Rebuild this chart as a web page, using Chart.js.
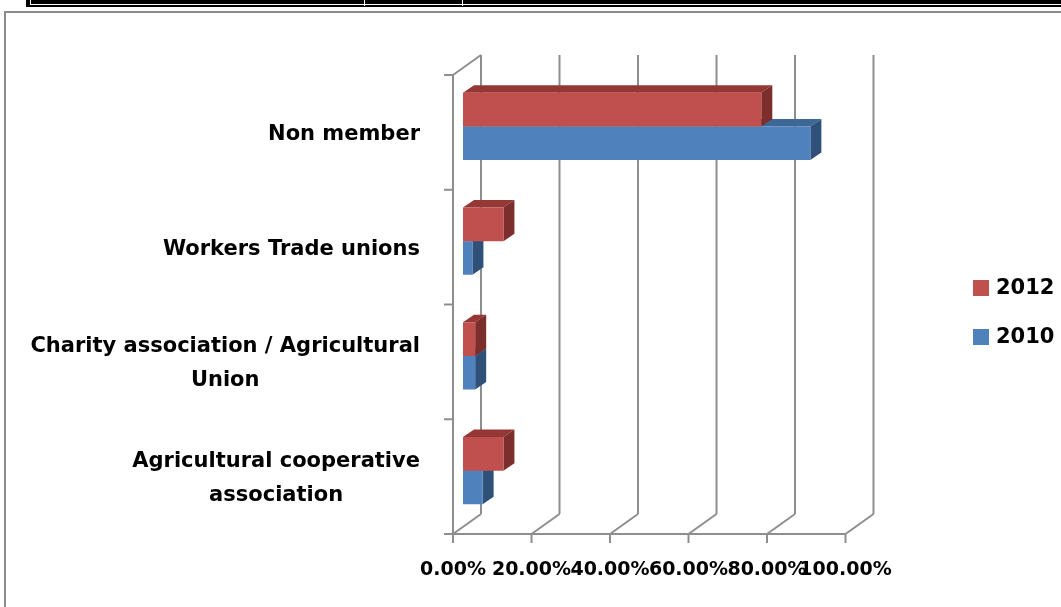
<!DOCTYPE html>
<html>
<head>
<meta charset="utf-8">
<script src="https://cdn.jsdelivr.net/npm/chart.js@4.4.1/dist/chart.umd.min.js"></script>
<style>
  body { margin:0; background:#fff; width:1061px; height:607px; overflow:hidden; position:relative; }
  #topbar { position:absolute; left:26px; top:0; width:1035px; height:7px; background:#000; }
  #topbar .inner { position:absolute; left:4px; top:-1px; width:1040px; height:5px; border-left:1px solid #fff; border-bottom:1px solid #fff; }
  #topbar .sep { position:absolute; top:0; width:1px; height:6px; background:#fff; }
  #frame { position:absolute; left:4px; top:11px; width:1100px; height:700px; border-top:2px solid #8c8c8c; border-left:2px solid #8c8c8c; }
  #chart { position:absolute; left:0; top:0; }
</style>
</head>
<body>
<div id="topbar"><div class="inner"></div><div class="sep" style="left:338px"></div><div class="sep" style="left:436px"></div></div>
<div id="frame"></div>
<canvas id="chart" width="1061" height="607"></canvas>
<script>
(function(){
    // data (percent)
    const categories = [
        ['Non member'],
        ['Workers Trade unions'],
        ['Charity association / Agricultural', 'Union'],
        ['Agricultural cooperative', 'association']
    ];
    const seriesNames = ['2012', '2010'];
    const values2012 = [76.0, 10.3, 3.1, 10.3];
    const values2010 = [88.5, 2.4, 3.1, 5.0];
    const xTicks = [0, 20, 40, 60, 80, 100];

    const colors = {
        '2012': { front:'#C0504D', top:'#953735', side:'#7B2E2C' },
        '2010': { front:'#4F81BD', top:'#3C6797', side:'#2F5078' }
    };

    // 3d offsets relative to the plane of the bars' front faces
    const FRONT = { dx:-10, dy:6 };
    const BACK = { dx:18, dy:-14 };
    const DEPTH = { dx:11, dy:-7.5 };
    const FONT = '"DejaVu Sans", sans-serif';

    function line(ctx, x1, y1, x2, y2){
        ctx.beginPath(); ctx.moveTo(x1, y1); ctx.lineTo(x2, y2); ctx.stroke();
    }
    function poly(ctx, pts, fill){
        ctx.beginPath();
        ctx.moveTo(pts[0][0], pts[0][1]);
        for(let i=1;i<pts.length;i++) ctx.lineTo(pts[i][0], pts[i][1]);
        ctx.closePath();
        ctx.fillStyle = fill; ctx.fill();
    }

    const threeD = {
        id: 'threeD',
        beforeDatasetsDraw(chart){
            const { ctx, chartArea:a, scales:{ x, y } } = chart;
            ctx.save();
            ctx.strokeStyle = '#8e8e8e';
            ctx.lineWidth = 2;
            // back wall grid + floor lines + bottom ticks
            xTicks.forEach(v=>{
                const px = x.getPixelForValue(v);
                line(ctx, px+BACK.dx, a.top+BACK.dy, px+BACK.dx, a.bottom+BACK.dy);
                line(ctx, px+FRONT.dx, a.bottom+FRONT.dy, px+BACK.dx, a.bottom+BACK.dy);
                line(ctx, px+FRONT.dx, a.bottom+FRONT.dy, px+FRONT.dx, a.bottom+FRONT.dy+9);
            });
            const fx = a.left + FRONT.dx;
            // left wall top edge
            line(ctx, fx, a.top+FRONT.dy, a.left+BACK.dx, a.top+BACK.dy);
            // front axes
            line(ctx, fx, a.top+FRONT.dy, fx, a.bottom+FRONT.dy);
            line(ctx, fx-9, a.bottom+FRONT.dy, x.getPixelForValue(100)+FRONT.dx, a.bottom+FRONT.dy);
            const band = (a.bottom - a.top) / categories.length;
            for(let i=0;i<categories.length;i++){
                const py = a.top + i*band + FRONT.dy;
                line(ctx, fx-9, py, fx, py);
            }
            // top and side faces of the bars, lower series first
            for(let d=chart.data.datasets.length-1; d>=0; d--){
                const ds = chart.data.datasets[d];
                const c = colors[ds.label];
                chart.getDatasetMeta(d).data.forEach(el=>{
                    const p = el.getProps(['x','y','base','height'], true);
                    const t = p.y - p.height/2, b = p.y + p.height/2;
                    poly(ctx, [[p.base,t],[p.base+DEPTH.dx,t+DEPTH.dy],[p.x+DEPTH.dx,t+DEPTH.dy],[p.x,t]], c.top);
                    poly(ctx, [[p.x,t],[p.x+DEPTH.dx,t+DEPTH.dy],[p.x+DEPTH.dx,b+DEPTH.dy],[p.x,b]], c.side);
                });
            }
            ctx.restore();
        },
        afterDraw(chart){
            const { ctx, chartArea:a, scales:{ x, y } } = chart;
            ctx.save();
            ctx.fillStyle = '#000';
            // category labels, lines centred in a right aligned block
            ctx.font = 'bold 21px ' + FONT;
            ctx.textBaseline = 'middle';
            ctx.textAlign = 'center';
            const right = a.left + FRONT.dx - 33;
            const lh = 34;
            categories.forEach((lines, i)=>{
                const w = Math.max(...lines.map(s=>ctx.measureText(s).width));
                const cx = right - w/2;
                const cy = y.getPixelForValue(i) + FRONT.dy + 2;
                lines.forEach((s, k)=>{
                    ctx.fillText(s, cx, cy + (k - (lines.length-1)/2)*lh);
                });
            });
            // value axis labels
            ctx.font = 'bold 19px ' + FONT;
            xTicks.forEach(v=>{
                ctx.fillText(v.toFixed(2) + '%', x.getPixelForValue(v)+FRONT.dx, 570);
            });
            // legend
            ctx.font = 'bold 21px ' + FONT;
            ctx.textAlign = 'left';
            seriesNames.forEach((n, i)=>{
                const ly = 280 + i*49;
                ctx.fillStyle = colors[n].front;
                ctx.fillRect(973, ly, 16, 16);
                ctx.fillStyle = '#000';
                ctx.fillText(n, 996, ly + 9);
            });
            ctx.restore();
        }
    };

    new Chart(document.getElementById('chart').getContext('2d'), {
        type: 'bar',
        data: {
            labels: categories,
            datasets: [
                { label: seriesNames[0], data: values2012, backgroundColor: colors['2012'].front },
                { label: seriesNames[1], data: values2010, backgroundColor: colors['2010'].front }
            ]
        },
        options: {
            indexAxis: 'y',
            responsive: false,
            animation: false,
            layout: { padding: { left: 463, right: 205.5, top: 69, bottom: 79 } },
            datasets: { bar: { categoryPercentage: 0.585, barPercentage: 1, borderWidth: 0 } },
            scales: {
                x: { display: false, min: 0, max: 100 },
                y: { display: false }
            },
            plugins: { legend: { display: false }, tooltip: { enabled: false } }
        },
        plugins: [threeD]
    });
})();
</script>
</body>
</html>
